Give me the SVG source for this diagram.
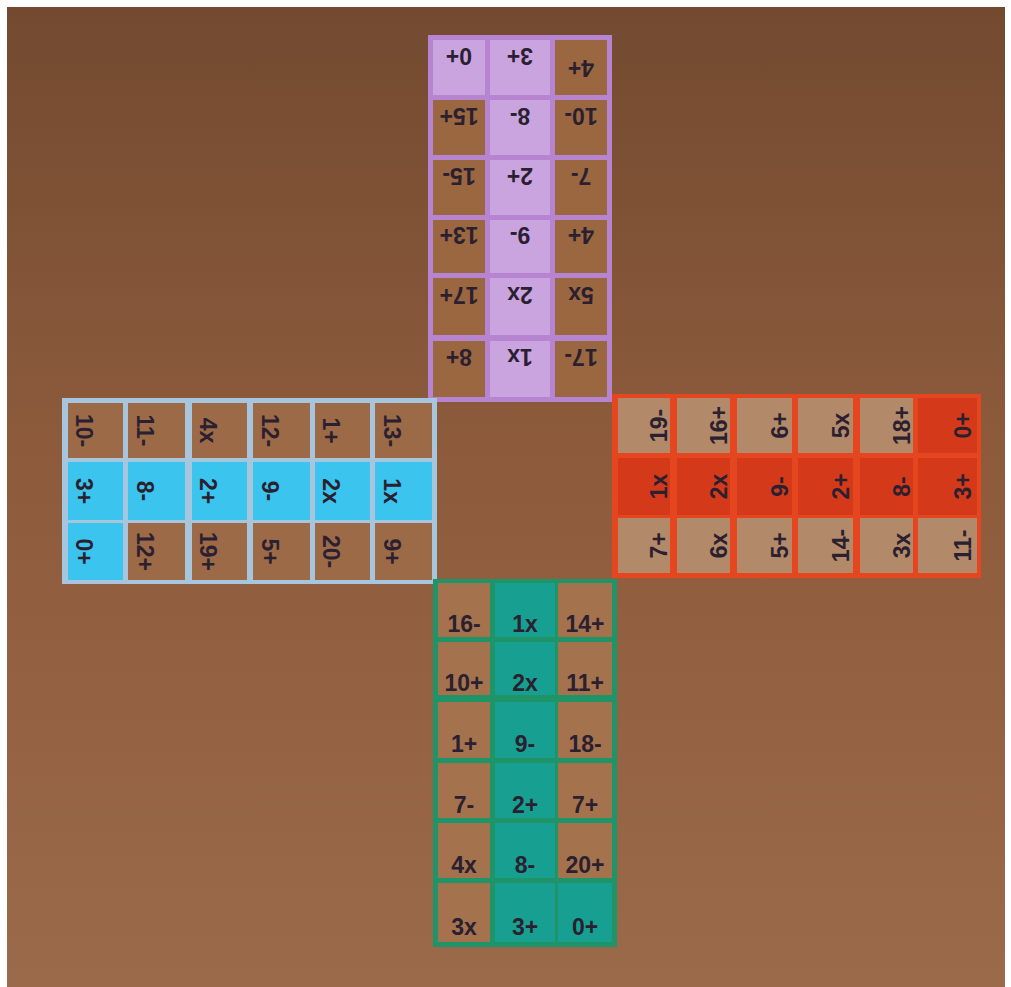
<svg xmlns="http://www.w3.org/2000/svg" width="1011" height="987" viewBox="0 0 1011 987">
<defs>
<linearGradient id="bg" x1="0" y1="0" x2="0" y2="1">
<stop offset="0" stop-color="#734a30"/>
<stop offset="0.45" stop-color="#8d5b3c"/>
<stop offset="1" stop-color="#9b6a4b"/>
</linearGradient>
<style>
text{font-family:"Liberation Sans","DejaVu Sans",sans-serif;font-size:23px;font-weight:bold;fill:#2a2030;text-anchor:middle}
.pb{fill:#b684d1}.pf{fill:#c9a4df}.pc{fill:#9b6741}
.bb{fill:#a7c5dc}.bf{fill:#3bc5ee}.bc{fill:#9c6a47}
.rb{fill:#e6461f}.rf{fill:#d43a1a}.rc{fill:#b28a6a}
.gb{fill:#1f9468}.gf{fill:#17a091}.gc{fill:#a4734e}
</style>
</defs>
<rect width="1011" height="987" fill="#ffffff"/>
<rect x="7" y="7" width="998" height="980" fill="url(#bg)"/>

<g id="arm-top">
<rect class="pb" x="428" y="35" width="184" height="367"/>
<g id="t1"><rect class="pf" x="433" y="40" width="52" height="55"/><text transform="translate(459,67.5) rotate(180)" y="20">0+</text></g>
<g id="t2"><rect class="pf" x="490" y="40" width="60" height="55"/><text transform="translate(520,67.5) rotate(180)" y="20">3+</text></g>
<g id="t3"><rect class="pc" x="555" y="40" width="52" height="55"/><text transform="translate(581,67.5) rotate(180)" y="8">4+</text></g>
<g id="t4"><rect class="pc" x="433" y="100" width="52" height="55"/><text transform="translate(459,127.5) rotate(180)" y="20">15+</text></g>
<g id="t5"><rect class="pf" x="490" y="100" width="60" height="55"/><text transform="translate(520,127.5) rotate(180)" y="20">8-</text></g>
<g id="t6"><rect class="pc" x="555" y="100" width="52" height="55"/><text transform="translate(581,127.5) rotate(180)" y="20">10-</text></g>
<g id="t7"><rect class="pc" x="433" y="160" width="52" height="55"/><text transform="translate(459,187.5) rotate(180)" y="20">15-</text></g>
<g id="t8"><rect class="pf" x="490" y="160" width="60" height="55"/><text transform="translate(520,187.5) rotate(180)" y="20">2+</text></g>
<g id="t9"><rect class="pc" x="555" y="160" width="52" height="55"/><text transform="translate(581,187.5) rotate(180)" y="20">7-</text></g>
<g id="t10"><rect class="pc" x="433" y="220" width="52" height="53"/><text transform="translate(459,246.5) rotate(180)" y="20">13+</text></g>
<g id="t11"><rect class="pf" x="490" y="220" width="60" height="53"/><text transform="translate(520,246.5) rotate(180)" y="20">9-</text></g>
<g id="t12"><rect class="pc" x="555" y="220" width="52" height="53"/><text transform="translate(581,246.5) rotate(180)" y="20">4+</text></g>
<g id="t13"><rect class="pc" x="433" y="278" width="52" height="57"/><text transform="translate(459,306.5) rotate(180)" y="20">17+</text></g>
<g id="t14"><rect class="pf" x="490" y="278" width="60" height="57"/><text transform="translate(520,306.5) rotate(180)" y="20">2x</text></g>
<g id="t15"><rect class="pc" x="555" y="278" width="52" height="57"/><text transform="translate(581,306.5) rotate(180)" y="20">5x</text></g>
<g id="t16"><rect class="pc" x="433" y="341" width="52" height="56"/><text transform="translate(459,369) rotate(180)" y="20">8+</text></g>
<g id="t17"><rect class="pf" x="490" y="341" width="60" height="56"/><text transform="translate(520,369) rotate(180)" y="20">1x</text></g>
<g id="t18"><rect class="pc" x="555" y="341" width="52" height="56"/><text transform="translate(581,369) rotate(180)" y="20">17-</text></g>
</g>

<g id="arm-left">
<rect class="bb" x="62" y="398" width="375" height="186"/>
<g id="l1"><rect class="bc" x="68" y="403" width="55" height="55"/><text transform="translate(95.5,430.5) rotate(90)" y="20">10-</text></g>
<g id="l2"><rect class="bc" x="128" y="403" width="57" height="55"/><text transform="translate(156.5,430.5) rotate(90)" y="20">11-</text></g>
<g id="l3"><rect class="bc" x="192" y="403" width="55" height="55"/><text transform="translate(219.5,430.5) rotate(90)" y="20">4x</text></g>
<g id="l4"><rect class="bc" x="253" y="403" width="57" height="55"/><text transform="translate(281.5,430.5) rotate(90)" y="20">12-</text></g>
<g id="l5"><rect class="bc" x="315" y="403" width="55" height="55"/><text transform="translate(342.5,430.5) rotate(90)" y="20">1+</text></g>
<g id="l6"><rect class="bc" x="375" y="403" width="57" height="55"/><text transform="translate(403.5,430.5) rotate(90)" y="20">13-</text></g>
<g id="l7"><rect class="bf" x="68" y="462" width="55" height="58"/><text transform="translate(95.5,491) rotate(90)" y="20">3+</text></g>
<g id="l8"><rect class="bf" x="128" y="462" width="57" height="58"/><text transform="translate(156.5,491) rotate(90)" y="20">8-</text></g>
<g id="l9"><rect class="bf" x="192" y="462" width="55" height="58"/><text transform="translate(219.5,491) rotate(90)" y="20">2+</text></g>
<g id="l10"><rect class="bf" x="253" y="462" width="57" height="58"/><text transform="translate(281.5,491) rotate(90)" y="20">9-</text></g>
<g id="l11"><rect class="bf" x="315" y="462" width="55" height="58"/><text transform="translate(342.5,491) rotate(90)" y="20">2x</text></g>
<g id="l12"><rect class="bf" x="375" y="462" width="57" height="58"/><text transform="translate(403.5,491) rotate(90)" y="20">1x</text></g>
<g id="l13"><rect class="bf" x="68" y="523" width="55" height="57"/><text transform="translate(95.5,551.5) rotate(90)" y="20">0+</text></g>
<g id="l14"><rect class="bc" x="128" y="523" width="57" height="57"/><text transform="translate(156.5,551.5) rotate(90)" y="20">12+</text></g>
<g id="l15"><rect class="bc" x="192" y="523" width="55" height="57"/><text transform="translate(219.5,551.5) rotate(90)" y="20">19+</text></g>
<g id="l16"><rect class="bc" x="253" y="523" width="57" height="57"/><text transform="translate(281.5,551.5) rotate(90)" y="20">5+</text></g>
<g id="l17"><rect class="bc" x="315" y="523" width="55" height="57"/><text transform="translate(342.5,551.5) rotate(90)" y="20">20-</text></g>
<g id="l18"><rect class="bc" x="375" y="523" width="57" height="57"/><text transform="translate(403.5,551.5) rotate(90)" y="20">9+</text></g>
</g>

<g id="arm-right">
<rect class="rb" x="612" y="394" width="369" height="184"/>
<g id="r1"><rect class="rc" x="618" y="398" width="52" height="55"/><text transform="translate(644,425.5) rotate(-90)" y="23">19-</text></g>
<g id="r2"><rect class="rc" x="677" y="398" width="53" height="55"/><text transform="translate(703.5,425.5) rotate(-90)" y="23">16+</text></g>
<g id="r3"><rect class="rc" x="737" y="398" width="55" height="55"/><text transform="translate(764.5,425.5) rotate(-90)" y="23">6+</text></g>
<g id="r4"><rect class="rc" x="798" y="398" width="55" height="55"/><text transform="translate(825.5,425.5) rotate(-90)" y="23">5x</text></g>
<g id="r5"><rect class="rc" x="860" y="398" width="53" height="55"/><text transform="translate(886.5,425.5) rotate(-90)" y="23">18+</text></g>
<g id="r6"><rect class="rf" x="918" y="398" width="59" height="55"/><text transform="translate(947.5,425.5) rotate(-90)" y="23">0+</text></g>
<g id="r7"><rect class="rf" x="618" y="458" width="52" height="57"/><text transform="translate(644,486.5) rotate(-90)" y="23">1x</text></g>
<g id="r8"><rect class="rf" x="677" y="458" width="53" height="57"/><text transform="translate(703.5,486.5) rotate(-90)" y="23">2x</text></g>
<g id="r9"><rect class="rf" x="737" y="458" width="55" height="57"/><text transform="translate(764.5,486.5) rotate(-90)" y="23">9-</text></g>
<g id="r10"><rect class="rf" x="798" y="458" width="55" height="57"/><text transform="translate(825.5,486.5) rotate(-90)" y="23">2+</text></g>
<g id="r11"><rect class="rf" x="860" y="458" width="53" height="57"/><text transform="translate(886.5,486.5) rotate(-90)" y="23">8-</text></g>
<g id="r12"><rect class="rf" x="918" y="458" width="59" height="57"/><text transform="translate(947.5,486.5) rotate(-90)" y="23">3+</text></g>
<g id="r13"><rect class="rc" x="618" y="518" width="52" height="55"/><text transform="translate(644,545.5) rotate(-90)" y="23">7+</text></g>
<g id="r14"><rect class="rc" x="677" y="518" width="53" height="55"/><text transform="translate(703.5,545.5) rotate(-90)" y="23">6x</text></g>
<g id="r15"><rect class="rc" x="737" y="518" width="55" height="55"/><text transform="translate(764.5,545.5) rotate(-90)" y="23">5+</text></g>
<g id="r16"><rect class="rc" x="798" y="518" width="55" height="55"/><text transform="translate(825.5,545.5) rotate(-90)" y="23">14-</text></g>
<g id="r17"><rect class="rc" x="860" y="518" width="53" height="55"/><text transform="translate(886.5,545.5) rotate(-90)" y="23">3x</text></g>
<g id="r18"><rect class="rc" x="918" y="518" width="59" height="55"/><text transform="translate(947.5,545.5) rotate(-90)" y="23">11-</text></g>
</g>

<g id="arm-bottom">
<rect class="gb" x="433" y="579" width="184" height="368"/>
<g id="b1"><rect class="gc" x="438" y="583" width="52" height="54"/><text transform="translate(464,610)" y="22">16-</text></g>
<g id="b2"><rect class="gf" x="495" y="583" width="60" height="54"/><text transform="translate(525,610)" y="22">1x</text></g>
<g id="b3"><rect class="gc" x="558" y="583" width="54" height="54"/><text transform="translate(585,610)" y="22">14+</text></g>
<g id="b4"><rect class="gc" x="438" y="642" width="52" height="53"/><text transform="translate(464,668.5)" y="22">10+</text></g>
<g id="b5"><rect class="gf" x="495" y="642" width="60" height="53"/><text transform="translate(525,668.5)" y="22">2x</text></g>
<g id="b6"><rect class="gc" x="558" y="642" width="54" height="53"/><text transform="translate(585,668.5)" y="22">11+</text></g>
<g id="b7"><rect class="gc" x="438" y="702" width="52" height="56"/><text transform="translate(464,730)" y="22">1+</text></g>
<g id="b8"><rect class="gf" x="495" y="702" width="60" height="56"/><text transform="translate(525,730)" y="22">9-</text></g>
<g id="b9"><rect class="gc" x="558" y="702" width="54" height="56"/><text transform="translate(585,730)" y="22">18-</text></g>
<g id="b10"><rect class="gc" x="438" y="763" width="52" height="55"/><text transform="translate(464,790.5)" y="22">7-</text></g>
<g id="b11"><rect class="gf" x="495" y="763" width="60" height="55"/><text transform="translate(525,790.5)" y="22">2+</text></g>
<g id="b12"><rect class="gc" x="558" y="763" width="54" height="55"/><text transform="translate(585,790.5)" y="22">7+</text></g>
<g id="b13"><rect class="gc" x="438" y="823" width="52" height="55"/><text transform="translate(464,850.5)" y="22">4x</text></g>
<g id="b14"><rect class="gf" x="495" y="823" width="60" height="55"/><text transform="translate(525,850.5)" y="22">8-</text></g>
<g id="b15"><rect class="gc" x="558" y="823" width="54" height="55"/><text transform="translate(585,850.5)" y="22">20+</text></g>
<g id="b16"><rect class="gc" x="438" y="883" width="52" height="59"/><text transform="translate(464,912.5)" y="22">3x</text></g>
<g id="b17"><rect class="gf" x="495" y="883" width="60" height="59"/><text transform="translate(525,912.5)" y="22">3+</text></g>
<g id="b18"><rect class="gf" x="558" y="883" width="54" height="59"/><text transform="translate(585,912.5)" y="22">0+</text></g>
</g>
</svg>
